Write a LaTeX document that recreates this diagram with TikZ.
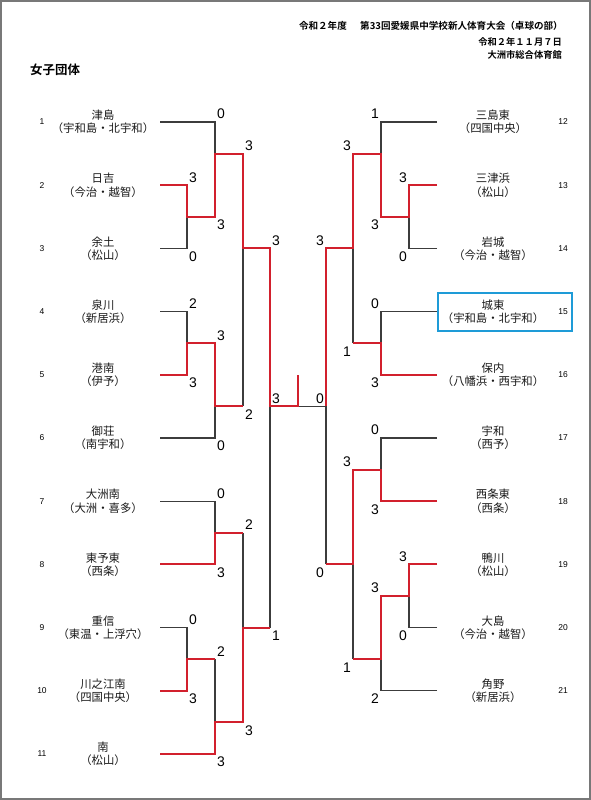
\documentclass[tikz,border=0pt]{standalone}
\usepackage{fontspec}
\newfontfamily\jp{Noto Sans CJK JP}
\newfontfamily\jpb{Noto Sans CJK JP Bold}
\newfontfamily\dg{Liberation Sans}
\definecolor{winred}{RGB}{210,32,45}
\definecolor{lineblk}{RGB}{60,60,60}
\definecolor{boxblue}{RGB}{30,155,215}
\definecolor{framegray}{RGB}{120,120,120}
\begin{document}
\begin{tikzpicture}[x=1bp,y=-1bp,
  team/.style={font=\jp\fontsize{11.4}{13.2}\selectfont, align=center, inner sep=0pt, text=black!90},
  num/.style={font=\dg\fontsize{8.5}{10}\selectfont, inner sep=0pt},
  sc/.style={font=\dg\fontsize{14}{16}\selectfont, inner sep=0pt},
  hdr/.style={font=\jpb\fontsize{9.3}{11}\selectfont, inner sep=0pt, anchor=east},
  blk/.style={draw=lineblk, line width=1.1bp},
  win/.style={draw=winred, line width=2bp, line join=miter}]
\useasboundingbox (0,0) rectangle (591,800);
\draw[framegray, line width=1.5bp] (1,1) rectangle (590,799);

% header
\node[hdr, font=\jpb\fontsize{9.6}{11}\selectfont] (h1) at (563,26) {令和２年度\hspace{1.4em}第33回愛媛県中学校新人体育大会（卓球の部）};
\node[hdr] (h2) at (562,42) {令和２年１１月７日};
\node[hdr] (h3) at (562,55) {大洲市総合体育館};
\node[font=\jpb\fontsize{12.5}{14}\selectfont, inner sep=0pt, anchor=west] (title) at (30,70) {女子団体};

% team line ends (left)
\coordinate (s1) at (160,122);
\coordinate (s2) at (160,185.2);
\coordinate (s3) at (160,248.4);
\coordinate (s4) at (160,311.6);
\coordinate (s5) at (160,374.8);
\coordinate (s6) at (160,438);
\coordinate (s7) at (160,501.2);
\coordinate (s8) at (160,564.4);
\coordinate (s9) at (160,627.6);
\coordinate (s10) at (160,690.8);
\coordinate (s11) at (160,754);
% team line ends (right)
\coordinate (r12) at (437,122);
\coordinate (r13) at (437,185.2);
\coordinate (r14) at (437,248.4);
\coordinate (r15) at (437,311.6);
\coordinate (r16) at (437,374.8);
\coordinate (r17) at (437,438);
\coordinate (r18) at (437,501.2);
\coordinate (r19) at (437,564.4);
\coordinate (r20) at (437,627.6);
\coordinate (r21) at (437,690.8);

% junctions left
\coordinate (jA) at (187,216.8);
\coordinate (jB) at (215,153.6);
\coordinate (jC) at (187,343.2);
\coordinate (jD) at (215,406.4);
\coordinate (jQ) at (243,248.4);
\coordinate (jE) at (215,532.8);
\coordinate (jF) at (187,659.2);
\coordinate (jG) at (215,722.4);
\coordinate (jH) at (243,627.6);
\coordinate (jS) at (270,406.4);
\coordinate (jFin) at (298,406.4);
\coordinate (champ) at (298,375);
% junctions right
\coordinate (ka) at (409,216.8);
\coordinate (kb) at (381,153.6);
\coordinate (kc) at (381,343.2);
\coordinate (kQ) at (353,248.4);
\coordinate (kd) at (381,469.6);
\coordinate (ke) at (409,596);
\coordinate (kf) at (381,659.2);
\coordinate (kg) at (353,564.4);
\coordinate (kS) at (326,406.4);

% black (losing) lines
\draw[blk] (s1) -- (s1 -| jB) -- (jB);
\draw[blk] (s3) -- (s3 -| jA) -- (jA);
\draw[blk] (s4) -- (s4 -| jC) -- (jC);
\draw[blk] (s6) -- (s6 -| jD) -- (jD);
\draw[blk] (jQ |- jD) -- (jQ);
\draw[blk] (s7) -- (s7 -| jE) -- (jE);
\draw[blk] (jH |- jE) -- (jH);
\draw[blk] (s9) -- (s9 -| jF) -- (jF);
\draw[blk] (jG |- jF) -- (jG);
\draw[blk] (jS |- jH) -- (jS);
\draw[blk] (jFin) -- (kS);
\draw[blk] (r12) -- (r12 -| kb) -- (kb);
\draw[blk] (r14) -- (r14 -| ka) -- (ka);
\draw[blk] (r15) -- (r15 -| kc) -- (kc);
\draw[blk] (kQ |- kc) -- (kQ);
\draw[blk] (r17) -- (r17 -| kd) -- (kd);
\draw[blk] (kS |- kg) -- (kS);
\draw[blk] (kg |- kf) -- (kg);
\draw[blk] (r20) -- (r20 -| ke) -- (ke);
\draw[blk] (r21) -- (r21 -| kf) -- (kf);

% red (winning) lines
\draw[win] (s2) -- (s2 -| jA) -- (jA) -- (jB |- jA) -- (jB) -- (jQ |- jB) -- (jQ) -- (jS |- jQ) -- (jS) -- (jFin) -- (champ);
\draw[win] (s5) -- (s5 -| jC) -- (jC) -- (jD |- jC) -- (jD) -- (jQ |- jD);
\draw[win] (s8) -- (s8 -| jE) -- (jE) -- (jH |- jE);
\draw[win] (s10) -- (s10 -| jF) -- (jF) -- (jG |- jF);
\draw[win] (s11) -- (s11 -| jG) -- (jG) -- (jH |- jG) -- (jH) -- (jS |- jH);
\draw[win] (r13) -- (r13 -| ka) -- (ka) -- (kb |- ka) -- (kb) -- (kQ |- kb) -- (kQ) -- (kS |- kQ) -- (kS);
\draw[win] (r16) -- (r16 -| kc) -- (kc) -- (kQ |- kc);
\draw[win] (r18) -- (r18 -| kd) -- (kd) -- (kg |- kd) -- (kg) -- (kS |- kg);
\draw[win] (r19) -- (r19 -| ke) -- (ke) -- (kf |- ke) -- (kf) -- (kg |- kf);

% teams left
\node[team] (n1) at (103,122) {津島\\（宇和島・北宇和）};
\node[team] (n2) at (103,185.2) {日吉\\（今治・越智）};
\node[team] (n3) at (103,248.4) {余土\\（松山）};
\node[team] (n4) at (103,311.6) {泉川\\（新居浜）};
\node[team] (n5) at (103,374.8) {港南\\（伊予）};
\node[team] (n6) at (103,438) {御荘\\（南宇和）};
\node[team] (n7) at (103,501.2) {大洲南\\（大洲・喜多）};
\node[team] (n8) at (103,564.4) {東予東\\（西条）};
\node[team] (n9) at (103,627.6) {重信\\（東温・上浮穴）};
\node[team] (n10) at (103,690.8) {川之江南\\（四国中央）};
\node[team] (n11) at (103,754) {南\\（松山）};
% teams right
\node[team] (n12) at (493,122) {三島東\\（四国中央）};
\node[team] (n13) at (493,185.2) {三津浜\\（松山）};
\node[team] (n14) at (493,248.4) {岩城\\（今治・越智）};
\node[team] (n15) at (493,311.6) {城東\\（宇和島・北宇和）};
\node[team] (n16) at (493,374.8) {保内\\（八幡浜・西宇和）};
\node[team] (n17) at (493,438) {宇和\\（西予）};
\node[team] (n18) at (493,501.2) {西条東\\（西条）};
\node[team] (n19) at (493,564.4) {鴨川\\（松山）};
\node[team] (n20) at (493,627.6) {大島\\（今治・越智）};
\node[team] (n21) at (493,690.8) {角野\\（新居浜）};
\draw[boxblue, line width=2bp] (438,293) rectangle (572,331);

% numbers
\foreach \i/\y in {1/122,2/185.2,3/248.4,4/311.6,5/374.8,6/438,7/501.2,8/564.4,9/627.6,10/690.8,11/754}
  \node[num] (m\i) at (42,\y) {\i};
\foreach \i/\y in {12/122,13/185.2,14/248.4,15/311.6,16/374.8,17/438,18/501.2,19/564.4,20/627.6,21/690.8}
  \node[num] (m\i) at (563,\y) {\i};

% scores left
\node[sc] (pA1) at (193,177.2) {3};
\node[sc] (pA2) at (193,256.4) {0};
\node[sc] (pB1) at (221,114) {0};
\node[sc] (pB2) at (221,224.8) {3};
\node[sc] (pQ1) at (249,145.6) {3};
\node[sc] (pQ2) at (249,414.4) {2};
\node[sc] (pC1) at (193,303.6) {2};
\node[sc] (pC2) at (193,382.8) {3};
\node[sc] (pD1) at (221,335.2) {3};
\node[sc] (pD2) at (221,446) {0};
\node[sc] (pS1) at (276,240.4) {3};
\node[sc] (pS2) at (276,635.6) {1};
\node[sc] (pE1) at (221,493.2) {0};
\node[sc] (pE2) at (221,572.4) {3};
\node[sc] (pF1) at (193,619.6) {0};
\node[sc] (pF2) at (193,698.8) {3};
\node[sc] (pG1) at (221,651.2) {2};
\node[sc] (pG2) at (221,762) {3};
\node[sc] (pH1) at (249,524.8) {2};
\node[sc] (pH2) at (249,730.4) {3};
\node[sc] (pFL) at (276,398.4) {3};
% scores right
\node[sc] (qa1) at (403,177.2) {3};
\node[sc] (qa2) at (403,256.4) {0};
\node[sc] (qb1) at (375,114) {1};
\node[sc] (qb2) at (375,224.8) {3};
\node[sc] (qQ1) at (347,145.6) {3};
\node[sc] (qQ2) at (347,351.2) {1};
\node[sc] (qc1) at (375,303.6) {0};
\node[sc] (qc2) at (375,382.8) {3};
\node[sc] (qS1) at (320,240.4) {3};
\node[sc] (qS2) at (320,572.4) {0};
\node[sc] (qd1) at (375,430) {0};
\node[sc] (qd2) at (375,509.2) {3};
\node[sc] (qe1) at (403,556.4) {3};
\node[sc] (qe2) at (403,635.6) {0};
\node[sc] (qf1) at (375,588) {3};
\node[sc] (qf2) at (375,698.8) {2};
\node[sc] (qg1) at (347,461.6) {3};
\node[sc] (qg2) at (347,667.2) {1};
\node[sc] (qFR) at (320,398.4) {0};
\end{tikzpicture}
\end{document}
